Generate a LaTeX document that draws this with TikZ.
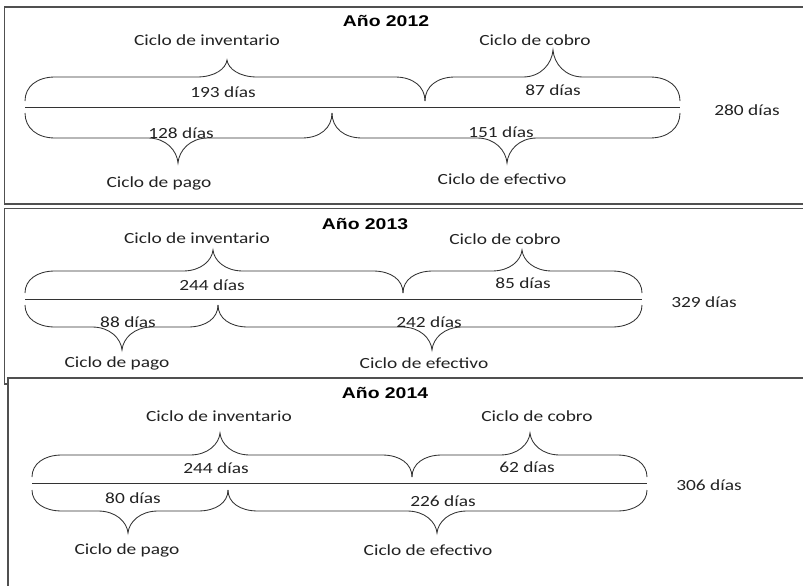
\documentclass[tikz,border=0pt]{standalone}
\usepackage{fontspec}
\usepackage{graphicx}
\setmainfont{Carlito}
\newfontfamily\titlefont{Liberation Sans}
\definecolor{frame}{HTML}{505050}
\definecolor{ink}{HTML}{333333}
\definecolor{txt}{HTML}{222222}
\newcommand{\Tx}[1]{\scalebox{1.25}[1]{#1}}
\newcommand{\brc}[6]{%
  \draw[brcline] (#1,#4) .. controls (#1,{#4+0.6*(#5-#4)}) and ({#1+12},#5) .. ({#1+30},#5)
    -- ({#3-30},#5) .. controls ({#3-12},#5) and ({#3-1},{#5+0.5*(#6-#5)}) .. (#3,#6)
    .. controls ({#3+1},{#5+0.5*(#6-#5)}) and ({#3+12},#5) .. ({#3+30},#5)
    -- ({#2-30},#5) .. controls ({#2-12},#5) and (#2,{#4+0.6*(#5-#4)}) .. (#2,#4);}
\tikzset{
  framel/.style={draw=frame, line width=1.4pt},
  brcline/.style={draw=ink, line width=0.85pt},
  baseln/.style={draw=ink, line width=0.85pt},
  lbl/.style={inner sep=0pt, text=txt, font=\fontsize{15.5}{18}\selectfont},
  ttl/.style={inner sep=0pt, text=black, font=\titlefont\bfseries\fontsize{15.5}{18}\selectfont}
}
\begin{document}
\begin{tikzpicture}[x=1pt,y=-1pt]
\useasboundingbox[fill=white] (0,0) rectangle (803,586);
% frames
\draw[framel] (803,7) -- (4.5,7) -- (4.5,204) -- (803,204);
\draw[framel] (803,208.5) -- (4.5,208.5) -- (4.5,384) -- (8,384);
\draw[framel] (803,378) -- (8,378) -- (8,587);

% ---------- 2012 ----------
\node[ttl] (t12) at (386,21) {\Tx{Año 2012}};
\node[lbl] (inv12) at (207,40) {\Tx{Ciclo de inventario}};
\node[lbl] (cob12) at (535,40) {\Tx{Ciclo de cobro}};
\draw[baseln] (25,107) -- (680,107);
\brc{25}{425}{227}{101}{77}{60}
\brc{425}{680}{553}{101}{77}{50}
\brc{25}{332}{178}{113}{138}{163}
\brc{332}{680}{507}{113}{138}{163}
\node[lbl] (d193) at (223,92) {\Tx{193 días}};
\node[lbl] (d87) at (553,90) {\Tx{87 días}};
\node[lbl] (d128) at (181,133) {\Tx{128 días}};
\node[lbl] (d151) at (501,132) {\Tx{151 días}};
\node[lbl] (pag12) at (159,183) {\Tx{Ciclo de pago}};
\node[lbl] (efe12) at (502,179) {\Tx{Ciclo de efectivo}};
\node[lbl] (tot12) at (747,110) {\Tx{280 días}};

% ---------- 2013 ----------
\node[ttl] (t13) at (365,224) {\Tx{Año 2013}};
\node[lbl] (inv13) at (197,238) {\Tx{Ciclo de inventario}};
\node[lbl] (cob13) at (505,239) {\Tx{Ciclo de cobro}};
\draw[baseln] (25,299) -- (642,299);
\brc{25}{403}{213}{293}{271}{250}
\brc{403}{642}{522}{293}{271}{250}
\brc{25}{218}{122}{305}{327}{350}
\brc{218}{642}{432}{305}{327}{350}
\node[lbl] (d244a) at (212,285) {\Tx{244 días}};
\node[lbl] (d85) at (523,283) {\Tx{85 días}};
\node[lbl] (d88) at (128,322) {\Tx{88 días}};
\node[lbl] (d242) at (429,322) {\Tx{242 días}};
\node[lbl] (pag13) at (117,363) {\Tx{Ciclo de pago}};
\node[lbl] (efe13) at (424,363) {\Tx{Ciclo de efectivo}};
\node[lbl] (tot13) at (704,302) {\Tx{329 días}};

% ---------- 2014 ----------
\node[ttl] (t14) at (385,393) {\Tx{Año 2014}};
\node[lbl] (inv14) at (219,416) {\Tx{Ciclo de inventario}};
\node[lbl] (cob14) at (537,416) {\Tx{Ciclo de cobro}};
\draw[baseln] (32,483) -- (647,483);
\brc{32}{412}{220}{477}{455}{433}
\brc{412}{647}{530}{477}{455}{433}
\brc{32}{228}{128}{490}{511}{533}
\brc{228}{647}{437}{490}{511}{533}
\node[lbl] (d244b) at (216,468) {\Tx{244 días}};
\node[lbl] (d62) at (527,467) {\Tx{62 días}};
\node[lbl] (d80) at (133,498) {\Tx{80 días}};
\node[lbl] (d226) at (443,501) {\Tx{226 días}};
\node[lbl] (pag14) at (127,550) {\Tx{Ciclo de pago}};
\node[lbl] (efe14) at (428,550) {\Tx{Ciclo de efectivo}};
\node[lbl] (tot14) at (709,485) {\Tx{306 días}};
\end{tikzpicture}
\end{document}
